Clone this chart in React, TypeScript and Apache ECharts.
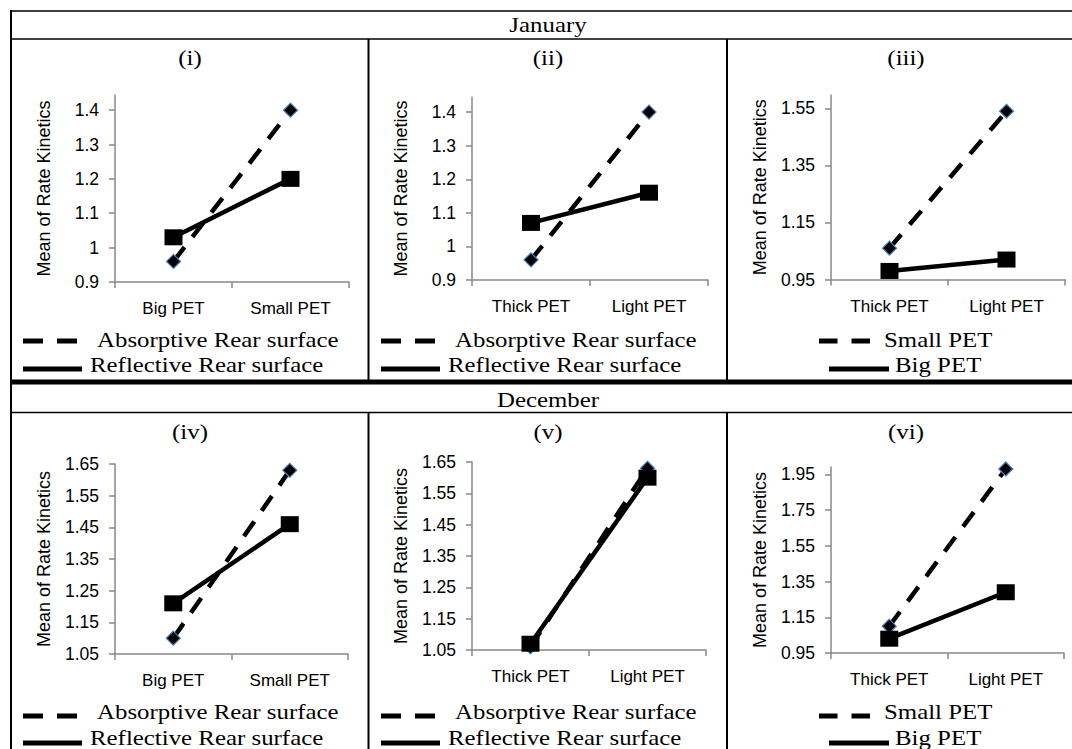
import React, { useEffect, useRef } from "react";
import * as echarts from "echarts";

// ---------- data ----------
const catsSize = ["Big PET", "Small PET"];
const catsType = ["Thick PET", "Light PET"];
const namesSurface = ["Absorptive Rear surface", "Reflective Rear surface"];
const namesSize = ["Small PET", "Big PET"];
const yTitle = "Mean of Rate Kinetics";
const monthTitles = ["January", "December"];
const panelTitles = ["(i)", "(ii)", "(iii)", "(iv)", "(v)", "(vi)"];

const dashed1 = [0.96, 1.4];
const solid1 = [1.03, 1.2];
const dashed2 = [0.96, 1.4];
const solid2 = [1.07, 1.16];
const dashed3 = [1.06, 1.54];
const solid3 = [0.98, 1.02];
const dashed4 = [1.1, 1.63];
const solid4 = [1.21, 1.46];
const dashed5 = [1.06, 1.63];
const solid5 = [1.07, 1.6];
const dashed6 = [1.1, 1.98];
const solid6 = [1.03, 1.29];

const ticksJanA = [0.9, 1, 1.1, 1.2, 1.3, 1.4];
const ticksJanB = [0.95, 1.15, 1.35, 1.55];
const ticksDecA = [1.05, 1.15, 1.25, 1.35, 1.45, 1.55, 1.65];
const ticksDecB = [0.95, 1.15, 1.35, 1.55, 1.75, 1.95];

// ---------- layout ----------
const panels = [
  { cats: catsSize, names: namesSurface, dashed: dashed1, solid: solid1, ticks: ticksJanA, min: 0.9, max: 1.444, grid: { left: 115, top: 95, width: 234, height: 187 }, col: 0, row: 0, kind: 0 },
  { cats: catsType, names: namesSurface, dashed: dashed2, solid: solid2, ticks: ticksJanA, min: 0.9, max: 1.445, grid: { left: 472, top: 97, width: 236, height: 183 }, col: 1, row: 0, kind: 0 },
  { cats: catsType, names: namesSize, dashed: dashed3, solid: solid3, ticks: ticksJanB, min: 0.95, max: 1.597, grid: { left: 831, top: 95, width: 234, height: 184.5 }, col: 2, row: 0, kind: 1 },
  { cats: catsSize, names: namesSurface, dashed: dashed4, solid: solid4, ticks: ticksDecA, min: 1.05, max: 1.65, grid: { left: 115, top: 464, width: 233, height: 190 }, col: 0, row: 1, kind: 0 },
  { cats: catsType, names: namesSurface, dashed: dashed5, solid: solid5, ticks: ticksDecA, min: 1.05, max: 1.65, grid: { left: 472, top: 462, width: 234, height: 188 }, col: 1, row: 1, kind: 0 },
  { cats: catsType, names: namesSize, dashed: dashed6, solid: solid6, ticks: ticksDecB, min: 0.95, max: 1.991, grid: { left: 831, top: 467, width: 233, height: 186 }, col: 2, row: 1, kind: 1 },
];

const colX0 = [11, 369, 727];
const colCenter = [190, 548, 906];
const titleY = [57.5, 431.5];
const monthY = [25, 400];
const leg1TextY = [340, 712];
const leg1IconY = [341, 716];
const leg2TextY = [365, 738];
const leg2IconY = [369, 743];
// [dashStart, dashEnd, text1X, lineStart, lineEnd, text2X] relative to column left
const legOffsets = [
  [12, 66, 86, 12, 71, 79],
  [92, 143, 157, 102, 162, 168],
];

const AXIS = "#898989";
const SERIF = "Liberation Serif";
const SANS = "Liberation Sans";
const SX = 1.13;

function buildOption() {
  const grid: any[] = [];
  const xAxis: any[] = [];
  const yAxis: any[] = [];
  const series: any[] = [];
  const graphic: any[] = [];

  panels.forEach((p, i) => {
    grid.push({ ...p.grid });
    xAxis.push({
      type: "category",
      gridIndex: i,
      data: p.cats,
      boundaryGap: true,
      axisLine: { show: true, lineStyle: { color: AXIS, width: 1.5 } },
      axisTick: { show: true, length: 6, inside: false, lineStyle: { color: AXIS, width: 1.5 } },
      axisLabel: { color: "#000", fontFamily: SANS, fontSize: 17, margin: 18 },
      splitLine: { show: false },
    });
    yAxis.push({
      type: "value",
      gridIndex: i,
      min: p.min,
      max: p.max,
      name: yTitle,
      nameLocation: "middle",
      nameRotate: 90,
      nameGap: 62,
      nameTextStyle: { color: "#000", fontFamily: SANS, fontSize: 18 },
      axisLine: { show: true, lineStyle: { color: AXIS, width: 1.5 } },
      axisTick: { show: true, length: 6, inside: false, customValues: p.ticks, lineStyle: { color: AXIS, width: 1.5 } },
      axisLabel: { color: "#000", fontFamily: SANS, fontSize: 17.5, margin: 16, customValues: p.ticks },
      splitLine: { show: false },
    });
    series.push({
      type: "line",
      name: p.names[0],
      xAxisIndex: i,
      yAxisIndex: i,
      data: p.dashed,
      symbol: "diamond",
      symbolSize: [14, 14],
      itemStyle: { color: "#000", borderColor: "#4a7ebb", borderWidth: 1.2 },
      lineStyle: { color: "#000", width: 4.5, type: [18, 13], cap: "butt" },
      z: 2,
    });
    series.push({
      type: "line",
      name: p.names[1],
      xAxisIndex: i,
      yAxisIndex: i,
      data: p.solid,
      symbol: "rect",
      symbolSize: [18, 16],
      itemStyle: { color: "#000" },
      lineStyle: { color: "#000", width: 4.5, type: "solid" },
      z: 3,
    });

    // panel title
    graphic.push({
      type: "text",
      x: colCenter[p.col],
      y: titleY[p.row],
      scaleX: SX,
      style: { text: panelTitles[i], fill: "#000", font: `22px "${SERIF}"`, textAlign: "center", textVerticalAlign: "middle" },
    });

    // legend
    const o = legOffsets[p.kind];
    const x0 = colX0[p.col];
    const d1 = x0 + o[0];
    const d2 = x0 + o[1];
    const seg = (d2 - d1 - 14) / 2;
    graphic.push({
      type: "line",
      shape: { x1: d1, y1: leg1IconY[p.row], x2: d1 + seg, y2: leg1IconY[p.row] },
      style: { stroke: "#000", lineWidth: 5 },
    });
    graphic.push({
      type: "line",
      shape: { x1: d2 - seg, y1: leg1IconY[p.row], x2: d2, y2: leg1IconY[p.row] },
      style: { stroke: "#000", lineWidth: 5 },
    });
    graphic.push({
      type: "text",
      x: x0 + o[2],
      y: leg1TextY[p.row],
      scaleX: SX,
      style: { text: p.names[0], fill: "#000", font: `22px "${SERIF}"`, textAlign: "left", textVerticalAlign: "middle" },
    });
    graphic.push({
      type: "line",
      shape: { x1: x0 + o[3], y1: leg2IconY[p.row], x2: x0 + o[4], y2: leg2IconY[p.row] },
      style: { stroke: "#000", lineWidth: 5 },
    });
    graphic.push({
      type: "text",
      x: x0 + o[5],
      y: leg2TextY[p.row],
      scaleX: SX,
      style: { text: p.names[1], fill: "#000", font: `22px "${SERIF}"`, textAlign: "left", textVerticalAlign: "middle" },
    });
  });

  // month titles
  monthTitles.forEach((m, r) => {
    graphic.push({
      type: "text",
      x: colCenter[1],
      y: monthY[r],
      scaleX: SX,
      style: { text: m, fill: "#000", font: `22px "${SERIF}"`, textAlign: "center", textVerticalAlign: "middle" },
    });
  });

  // table rules
  const hl = (y: number, w: number) => ({ type: "line", shape: { x1: 10, y1: y, x2: 1072, y2: y }, style: { stroke: "#000", lineWidth: w } });
  const vl = (x: number, y1: number, y2: number, w: number) => ({ type: "line", shape: { x1: x, y1, x2: x, y2 }, style: { stroke: "#000", lineWidth: w } });
  graphic.push(hl(11, 1.4));
  graphic.push(hl(39, 1.4));
  graphic.push(hl(382, 5));
  graphic.push(hl(412.5, 1.4));
  graphic.push(vl(11, 10, 749, 2));
  graphic.push(vl(368.5, 39, 380, 2));
  graphic.push(vl(727, 39, 380, 2));
  graphic.push(vl(368.5, 413, 749, 2));
  graphic.push(vl(727, 413, 749, 2));

  return {
    animation: false,
    backgroundColor: "#fff",
    grid,
    xAxis,
    yAxis,
    series,
    graphic,
  };
}

export default function App() {
  const ref = useRef<HTMLDivElement>(null);
  useEffect(() => {
    const chart = echarts.init(ref.current!, null, { renderer: "svg" });
    chart.setOption(buildOption() as any);
    return () => chart.dispose();
  }, []);
  return (
    <div
      ref={ref}
      style={{ position: "absolute", left: 0, top: 0, width: 1072, height: 749, background: "#fff" }}
    />
  );
}
